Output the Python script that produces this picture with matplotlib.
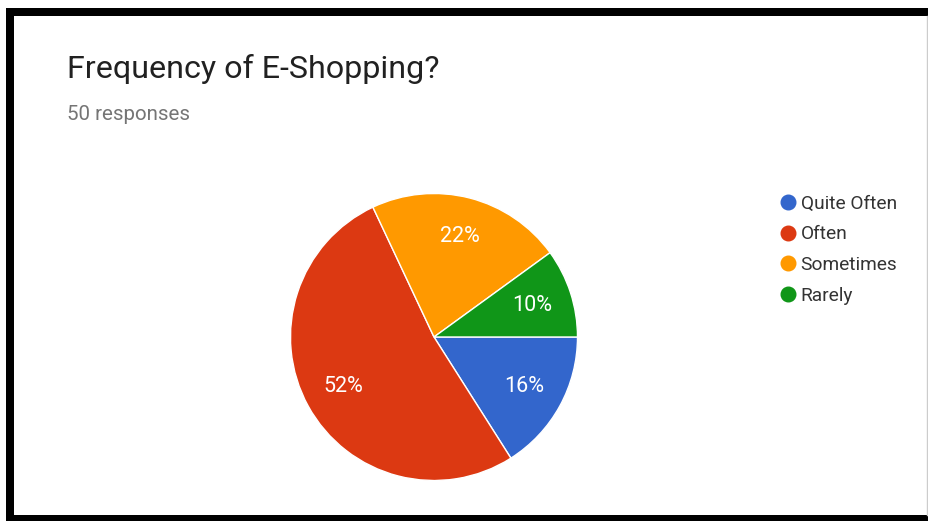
import matplotlib.pyplot as plt
from matplotlib.lines import Line2D

# Survey answers
labels = ['Quite Often', 'Often', 'Sometimes', 'Rarely']
shares = [16, 52, 22, 10]
colors = ['#3366cc', '#dc3912', '#ff9900', '#109618']
title = 'Frequency of E-Shopping?'
subtitle = '50 responses'

plt.rcParams['font.family'] = ['Roboto', 'DejaVu Sans']

W, H = 929, 521
fig = plt.figure(figsize=(W / 100, H / 100), dpi=100)
fig.patch.set_facecolor('white')

# thick black frame on left, top and bottom
def px(x, y):
    return x / W, 1 - y / H

frame = dict(color='black', linewidth=8 * 0.72, solid_capstyle='butt')
fig.add_artist(Line2D([px(10, 0)[0], px(10, 0)[0]], [px(0, 8)[1], px(0, 521)[1]], **frame))
fig.add_artist(Line2D([px(6, 0)[0], 1], [px(0, 12)[1], px(0, 12)[1]], **frame))
fig.add_artist(Line2D([px(6, 0)[0], 1], [px(0, 519)[1], px(0, 519)[1]], **frame))
fig.add_artist(Line2D([px(927, 0)[0], px(927, 0)[0]], [px(0, 16)[1], px(0, 515)[1]],
                      color='#cccccc', linewidth=1))

fig.text(67 / W, 1 - 69 / H, title, fontsize=23.2, color='#212121', va='center', ha='left')
fig.text(67 / W, 1 - 114 / H, subtitle, fontsize=14.8, color='#757575', va='center', ha='left')

# pie centred at (434, 337), radius ~143 px
cx, cy, r = 434, 337, 143.5
ax = fig.add_axes([(cx - r) / W, (H - cy - r) / H, 2 * r / W, 2 * r / H])
wedges, _, autotexts = ax.pie(
    shares, colors=colors, startangle=0, counterclock=False,
    autopct='%d%%', pctdistance=0.72,
    wedgeprops=dict(edgecolor='white', linewidth=1),
    textprops=dict(color='white', fontsize=15.5))
ax.set_xlim(-1, 1)
ax.set_ylim(-1, 1)
ax.set_aspect('equal')
ax.axis('off')

handles = [Line2D([], [], marker='o', linestyle='', markersize=10.5,
                  markerfacecolor=c, markeredgecolor=c) for c in colors]
fig.legend(handles, labels, loc='upper left', bbox_to_anchor=(770 / W, 1 - 187 / H),
           frameon=False, fontsize=13.8, labelcolor='#333333',
           handletextpad=0.1, labelspacing=0.66, borderaxespad=0, handlelength=1.1)

fig.savefig('out.png', dpi=100)
